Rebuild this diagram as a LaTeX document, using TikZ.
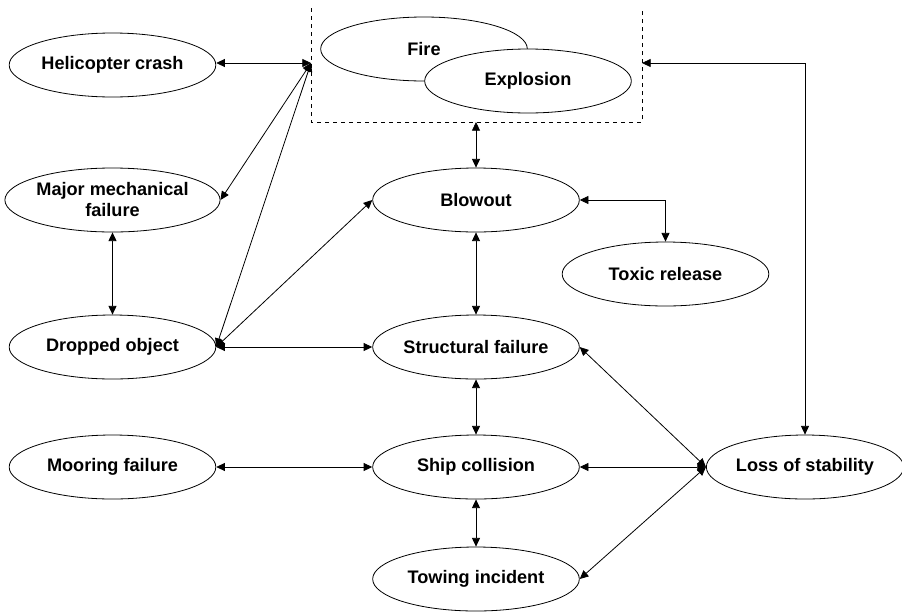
\documentclass[tikz,border=0pt]{standalone}
\usepackage{fontspec}
\setmainfont{Liberation Sans}
\usetikzlibrary{arrows.meta,shapes.geometric}
\begin{document}
\begin{tikzpicture}[x=0.75pt, y=-0.75pt,
		event/.style={draw, ellipse, fill=white, line width=0.6pt, inner sep=0pt, minimum width=155pt, minimum height=48pt, align=center, font=\fontsize{13.6}{15.75}\selectfont\bfseries},
		link/.style={{Triangle[length=6.5pt,width=6pt]}-{Triangle[length=6.5pt,width=6pt]}, line width=0.6pt}]
				\useasboundingbox (0,0) rectangle (902,611);
				\node[event] (fire) at (424,49) {Fire};
				\node[event] (expl) at (528,81) {Explosion};
				\draw[dashed, line width=0.6pt] (311,8) |- (642,122) -- (642,8);
				\coordinate (boxL) at (311,63);
				\coordinate (boxR) at (642,63);
				\coordinate (boxB) at (476,122);
				\node[event] (heli) at (112.5,65) {Helicopter crash};
				\node[event] (mech) at (112.5,200) {Major mechanical\\failure};
				\node[event] (drop) at (112.5,347) {Dropped object};
				\node[event] (moor) at (112.5,467) {Mooring failure};
				\node[event] (blow) at (476,200) {Blowout};
				\node[event] (tox) at (665.5,274) {Toxic release};
				\node[event] (struct) at (476,347) {Structural failure};
				\node[event] (ship) at (476,467) {Ship collision};
				\node[event] (tow) at (476,579) {Towing incident};
				\node[event, minimum width=148pt] (loss) at (805,467) {Loss of stability};
				\draw[link] (heli.east |- boxL) -- (boxL);
				\draw[link] (mech.east) -- (boxL);
				\draw[link] (drop.east) -- (boxL);
				\draw[link] (drop.east) -- (blow.west);
				\draw[link] (drop.east) -- (struct.west);
				\draw[link] (boxB) -- (blow.north);
				\draw[link] (blow.east) -| (tox.north);
				\draw[link] (boxR) -| (loss.north);
				\draw[link] (mech.south) -- (drop.north);
				\draw[link] (blow.south) -- (struct.north);
				\draw[link] (struct.south) -- (ship.north);
				\draw[link] (ship.south) -- (tow.north);
				\draw[link] (moor.east) -- (ship.west);
				\draw[link] (ship.east) -- (loss.west);
				\draw[link] (struct.east) -- (loss.west);
				\draw[link] (tow.east) -- (loss.west);
			\end{tikzpicture}
\end{document}
